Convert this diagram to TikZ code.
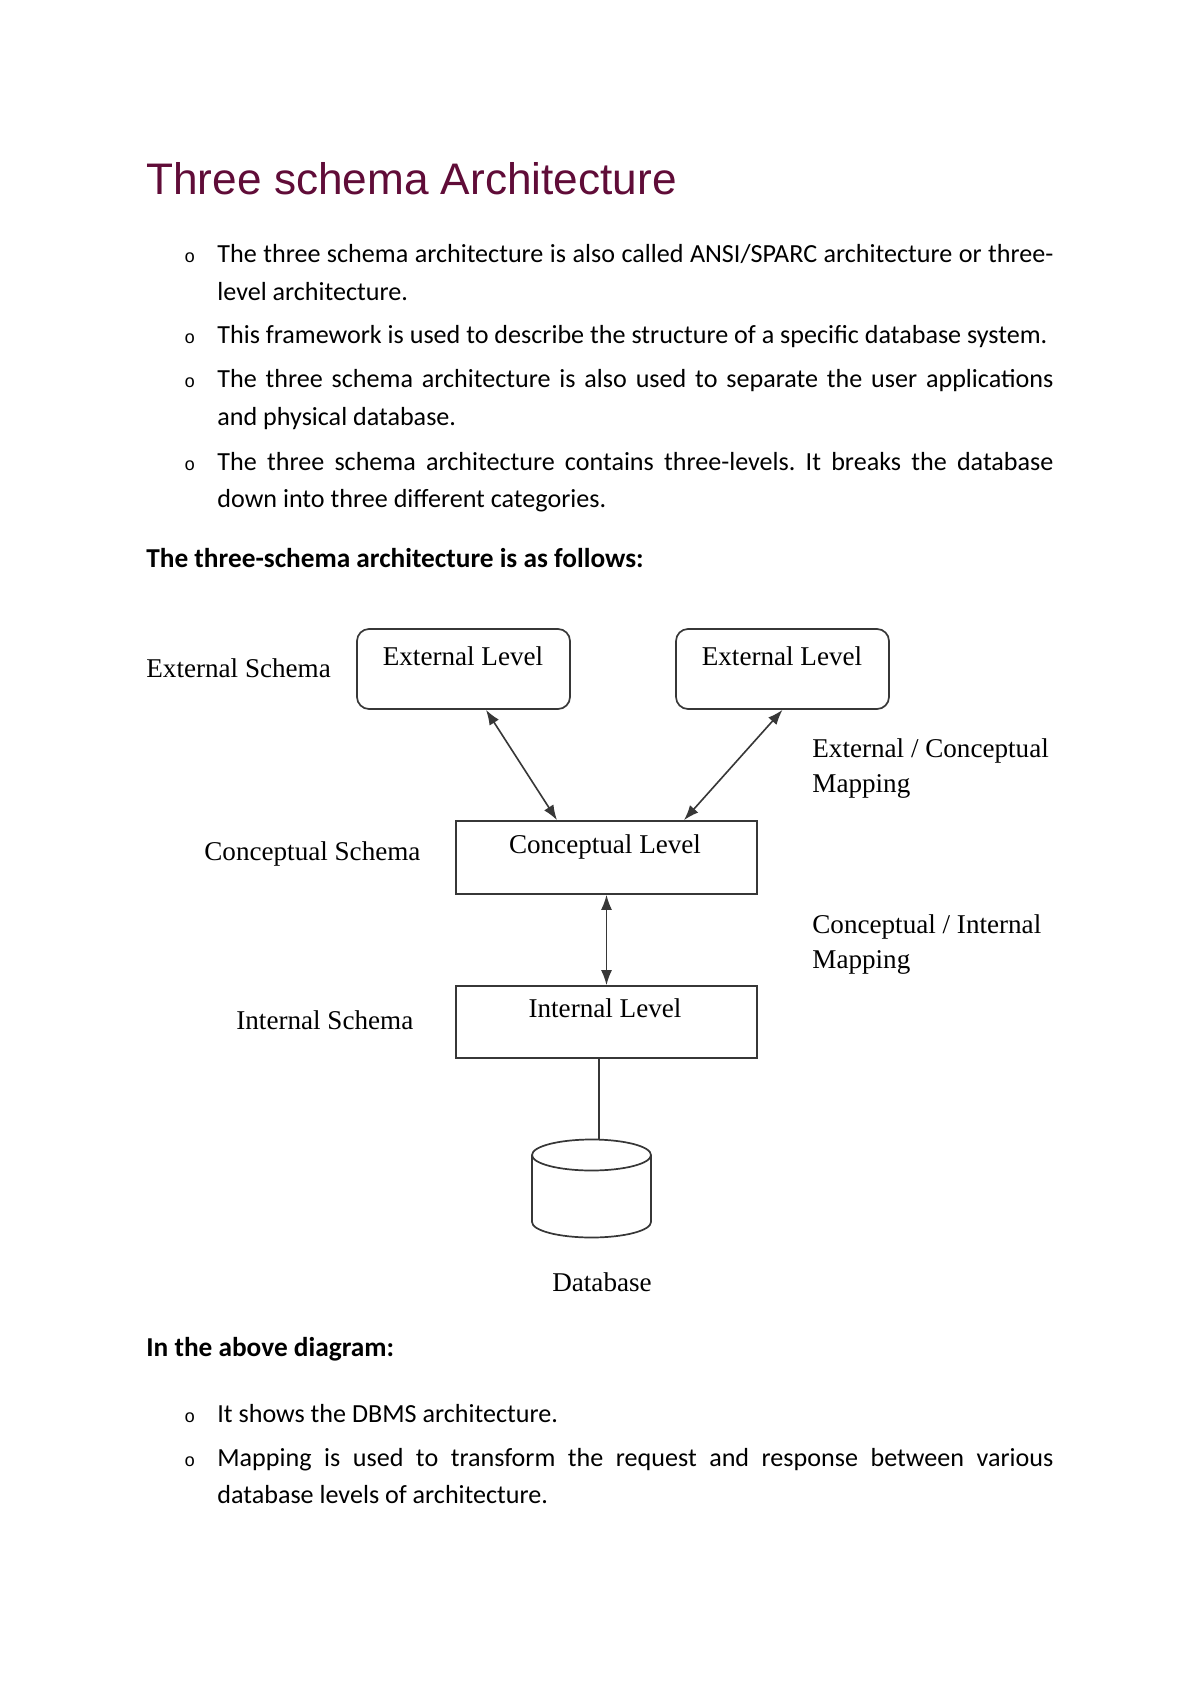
\documentclass[tikz,border=0pt]{standalone}
\usepackage{fontspec}
\setmainfont{Carlito}
\newfontfamily\headfont{Liberation Sans}
\newfontfamily\diafont{Liberation Serif}
\newfontfamily\markfont{Liberation Mono}
\usetikzlibrary{arrows.meta}

\definecolor{titlered}{RGB}{96,12,56}
\definecolor{linegray}{RGB}{55,55,55}
\def\pxu{0.0175cm}

\tikzset{
  titletext/.style={anchor=base west, inner sep=0pt, text=titlered, font=\headfont\fontsize{22}{26}\selectfont},
  bodytext/.style={anchor=base west, inner sep=0pt, text width=14.63cm, align=justify, font=\fontsize{13}{18.8}\selectfont},
  boldtext/.style={anchor=base west, inner sep=0pt, font=\bfseries\fontsize{13.6}{16}\selectfont},
  bulletmark/.style={anchor=base west, inner sep=0pt, font=\markfont\fontsize{9}{12}\selectfont},
  dialabel/.style={anchor=base west, inner sep=0pt, font=\diafont\fontsize{13.5}{16}\selectfont},
  levelname/.style={anchor=base, inner sep=0pt, font=\diafont\fontsize{13.5}{16}\selectfont},
  levelbox/.style={draw=linegray, line width=0.85pt, inner sep=0pt, minimum width=#1*\pxu},
  maparrow/.style={draw=linegray, line width=0.8pt, {Latex[length=7.5pt,width=5.5pt]}-{Latex[length=7.5pt,width=5.5pt]}}
}

\begin{document}
\frenchspacing
\begin{tikzpicture}[x=\pxu,y=-\pxu]
  \fill[white] (0,0) rectangle (1200,1696);
  \useasboundingbox (0,0) rectangle (1200,1696);

  % text above the diagram
  \node[titletext] (title) at (146,195) {Three schema Architecture};
  \node[bulletmark] (mark1) at (184,263) {o};
  \node[bodytext] (para1) at (217,263) {The three schema architecture is also called ANSI/SPARC architecture or three-\linebreak level architecture.};
  \node[bulletmark] (mark2) at (184,344) {o};
  \node[bodytext] (para2) at (217,344) {This framework is used to describe the structure of a specific database system.};
  \node[bulletmark] (mark3) at (184,388) {o};
  \node[bodytext] (para3) at (217,388) {The three schema architecture is also used to separate the user applications\linebreak and physical database.};
  \node[bulletmark] (mark4) at (184,470) {o};
  \node[bodytext] (para4) at (217,470) {The three schema architecture contains three-levels. It breaks the database\linebreak down into three different categories.};
  \node[boldtext] (follows) at (146,567) {The three-schema architecture is as follows:};

  % levels
  \node[levelbox=213, minimum height=80*\pxu, rounded corners=6pt] (ext1) at (463.5,669) {};
  \node[levelbox=213, minimum height=80*\pxu, rounded corners=6pt] (ext2) at (782.5,669) {};
  \node[levelbox=301, minimum height=73*\pxu] (conc) at (606.5,857.5) {};
  \node[levelbox=301, minimum height=72*\pxu] (int) at (606.5,1022) {};
  \node[levelname] (ext1name) at (463,665) {External Level};
  \node[levelname] (ext2name) at (782,665) {External Level};
  \node[levelname] (concname) at (605,853) {Conceptual Level};
  \node[levelname] (intname) at (605,1017) {Internal Level};

  % schema and mapping labels
  \node[dialabel] (extschema) at (146,677) {External Schema};
  \node[dialabel] (concschema) at (204,860) {Conceptual Schema};
  \node[dialabel] (intschema) at (236,1029) {Internal Schema};
  \node[dialabel] (extmap) at (812,757) {External / Conceptual};
  \node[dialabel] (extmap2) at (812,792) {Mapping};
  \node[dialabel] (intmap) at (812,933) {Conceptual / Internal};
  \node[dialabel] (intmap2) at (812,968) {Mapping};

  % mappings
  \draw[maparrow] ([xshift=22.5*\pxu]ext1.south) -- ([xshift=-49.5*\pxu]conc.north);
  \draw[maparrow] (ext2.south) -- ([xshift=77.5*\pxu]conc.north);
  \draw[maparrow] (conc.south) -- (int.north);

  % database
  \coordinate (dbtop) at (599,1140);
  \draw[linegray, line width=0.85pt] ([xshift=-7.5*\pxu]int.south) -- (dbtop);
  \draw[linegray, line width=0.85pt] (591.5,1155) ellipse[x radius=59.5*\pxu, y radius=15.5*\pxu];
  \draw[linegray, line width=0.85pt] (532,1155) -- (532,1222)
    arc[start angle=180, end angle=360, x radius=59.5*\pxu, y radius=15.5*\pxu] -- (651,1155);
  \node[levelname] (dbname) at (602,1291) {Database};

  % text below the diagram
  \node[boldtext] (above) at (146,1356) {In the above diagram:};
  \node[bulletmark] (mark5) at (184,1422) {o};
  \node[bodytext] (para5) at (217,1422) {It shows the DBMS architecture.};
  \node[bulletmark] (mark6) at (184,1466) {o};
  \node[bodytext] (para6) at (217,1466) {Mapping is used to transform the request and response between various\linebreak database levels of architecture.};
\end{tikzpicture}
\end{document}
